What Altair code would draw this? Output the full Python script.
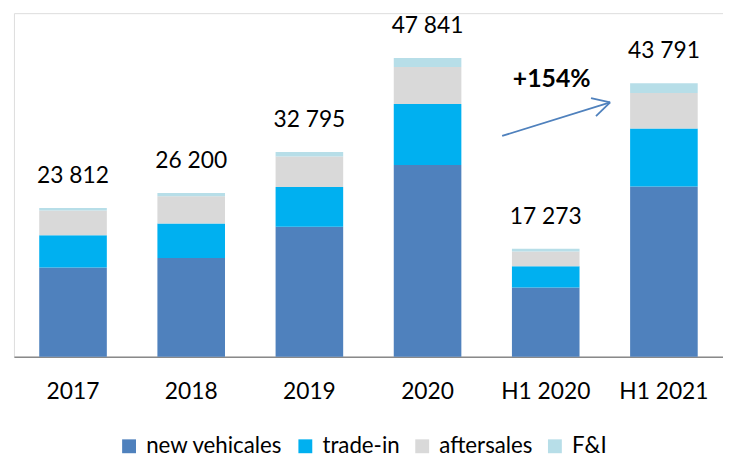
import altair as alt
import pandas as pd

FONT = "Lato"

categories = ["2017", "2018", "2019", "2020", "H1 2020", "H1 2021"]
series = ["new vehicales", "trade-in", "aftersales", "F&I"]
colors = ["#4F81BD", "#00B0F0", "#D9D9D9", "#B7DEE8"]

new_vehicles = [14300, 15800, 20800, 30700, 11100, 27270]
trade_in = [5150, 5550, 6390, 9750, 3400, 9280]
aftersales = [3950, 4340, 4865, 5920, 2350, 5660]
f_and_i = [412, 510, 740, 1471, 423, 1581]
totals = [23812, 26200, 32795, 47841, 17273, 43791]
total_labels = ["23 812", "26 200", "32 795", "47 841", "17 273", "43 791"]

growth_label = "+154%"

rows = []
for idx, (s, vals) in enumerate(zip(series, [new_vehicles, trade_in, aftersales, f_and_i])):
    for c, v in zip(categories, vals):
        rows.append({"category": c, "series": s, "value": v, "idx": idx})
df = pd.DataFrame(rows)
tot_df = pd.DataFrame({"category": categories, "total": totals, "label": total_labels})
one = pd.DataFrame({"a": [0]})

xscale = alt.Scale(domain=categories, paddingInner=0.428, paddingOuter=0.214)
yscale = alt.Scale(domain=[0, 55000], nice=False, zero=True)

xaxis = alt.Axis(title=None, labelAngle=0, labelFontSize=23, labelFont=FONT,
                 labelColor="black", labelPadding=24, ticks=False, tickSize=0,
                 domainColor="#898989", domainWidth=1.5, grid=False)

bars = alt.Chart(df).mark_bar().encode(
    x=alt.X("category:N", sort=categories, scale=xscale, axis=xaxis),
    y=alt.Y("value:Q", stack="zero", scale=yscale, axis=None),
    color=alt.Color("series:N", sort=series,
                    scale=alt.Scale(domain=series, range=colors),
                    legend=alt.Legend(title=None, orient="none", legendX=105, legendY=426,
                                      direction="horizontal", symbolType="square",
                                      symbolSize=196, symbolStrokeWidth=0,
                                      labelFontSize=22.5, labelFont=FONT, labelColor="black",
                                      labelOffset=6, columnPadding=11, padding=0)),
    order=alt.Order("idx:Q", sort="ascending"),
)

labels = alt.Chart(tot_df).mark_text(
    font=FONT, fontSize=23, color="black", baseline="alphabetic", dy=-25
).encode(
    x=alt.X("category:N", sort=categories, scale=xscale, axis=xaxis),
    y=alt.Y("total:Q", scale=yscale, axis=None),
    text="label:N",
)

arrow_color = "#4F81BD"

shaft = alt.Chart(one).mark_rule(color=arrow_color, strokeWidth=1.8,
                                 xOffset=-44, x2Offset=-54.3).encode(
    x=alt.XDatum("H1 2020", type="nominal", scale=xscale, axis=xaxis),
    x2=alt.X2Datum("H1 2021"),
    y=alt.YDatum(35346, type="quantitative", scale=yscale, axis=None),
    y2=alt.Y2Datum(40735),
)
arm1 = alt.Chart(one).mark_rule(color=arrow_color, strokeWidth=1.8,
                                xOffset=-54.3, x2Offset=-73.6).encode(
    x=alt.XDatum("H1 2021", type="nominal", scale=xscale, axis=xaxis),
    x2=alt.X2Datum("H1 2021"),
    y=alt.YDatum(40735, type="quantitative", scale=yscale, axis=None),
    y2=alt.Y2Datum(41417),
)
arm2 = alt.Chart(one).mark_rule(color=arrow_color, strokeWidth=1.8,
                                xOffset=-54.3, x2Offset=-68.6).encode(
    x=alt.XDatum("H1 2021", type="nominal", scale=xscale, axis=xaxis),
    x2=alt.X2Datum("H1 2021"),
    y=alt.YDatum(40735, type="quantitative", scale=yscale, axis=None),
    y2=alt.Y2Datum(38516),
)
growth = alt.Chart(one).mark_text(font=FONT, fontSize=25, fontWeight="bold", color="black",
                                  baseline="alphabetic", align="center", dx=6).encode(
    x=alt.XDatum("H1 2020", type="nominal", scale=xscale, axis=xaxis),
    y=alt.YDatum(43160, type="quantitative", scale=yscale, axis=None),
    text=alt.value(growth_label),
)

chart = alt.layer(bars, labels, shaft, arm1, arm2, growth).properties(
    width=716, height=347,
    autosize=alt.AutoSizeParams(type="none"),
    padding={"left": 6, "top": 3, "right": 0, "bottom": 99},
).configure_view(stroke=None).configure(background="white")

chart.save("out.html", embed_options={"renderer": "svg", "actions": False})
